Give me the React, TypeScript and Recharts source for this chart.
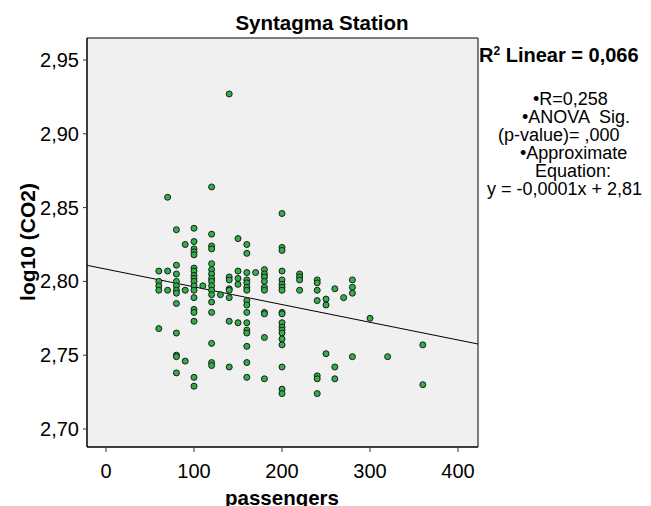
import {
  ScatterChart,
  Scatter,
  XAxis,
  YAxis,
  CartesianGrid,
  ReferenceLine,
  ReferenceArea,
} from 'recharts'

// passengers (x) and log10(CO2) (y)
const passengers = [
  60, 60, 60, 60, 60,
  70, 70, 70,
  80, 80, 80, 80, 80, 80, 80, 80, 80, 80, 80, 80,
  90, 90, 90,
  100, 100, 100, 100, 100, 100, 100, 100, 100, 100, 100, 100, 100, 100, 100, 100, 100, 100,
  110,
  120, 120, 120, 120, 120, 120, 120, 120, 120, 120, 120, 120, 120, 120, 120, 120, 120,
  130,
  140, 140, 140, 140, 140, 140, 140, 140,
  150, 150, 150, 150, 150,
  160, 160, 160, 160, 160, 160, 160, 160, 160, 160, 160, 160, 160, 160, 160, 160,
  170,
  180, 180, 180, 180, 180, 180, 180, 180, 180, 180,
  200, 200, 200, 200, 200, 200, 200, 200, 200, 200, 200, 200, 200, 200, 200, 200, 200, 200, 200,
  220, 220, 220, 220,
  240, 240, 240, 240, 240, 240, 240,
  250, 250, 250,
  260, 260, 260,
  270,
  280, 280, 280, 280,
  300,
  320,
  360, 360,
]

const logCO2 = [
  2.807, 2.8, 2.797, 2.794, 2.768,
  2.857, 2.807, 2.794,
  2.835, 2.811, 2.805, 2.8, 2.797, 2.794, 2.792, 2.785, 2.765, 2.75, 2.749, 2.738,
  2.825, 2.794, 2.746,
  2.836, 2.827, 2.822, 2.82, 2.818, 2.809, 2.807, 2.804, 2.802, 2.8, 2.797, 2.794, 2.789, 2.781, 2.779, 2.773, 2.735, 2.729,
  2.797,
  2.864, 2.832, 2.824, 2.822, 2.812, 2.808, 2.805, 2.802, 2.8, 2.797, 2.794, 2.791, 2.786, 2.779, 2.758, 2.745, 2.743,
  2.791,
  2.927, 2.803, 2.801, 2.795, 2.794, 2.789, 2.773, 2.742,
  2.829, 2.807, 2.802, 2.798, 2.772,
  2.825, 2.819, 2.806, 2.801, 2.799, 2.796, 2.794, 2.787, 2.784, 2.779, 2.772, 2.767, 2.765, 2.756, 2.745, 2.735,
  2.806,
  2.808, 2.805, 2.803, 2.8, 2.796, 2.794, 2.779, 2.778, 2.762, 2.734,
  2.846, 2.823, 2.821, 2.807, 2.801, 2.798, 2.796, 2.794, 2.779, 2.778, 2.772, 2.769, 2.767, 2.765, 2.761, 2.757, 2.742, 2.727, 2.724,
  2.805, 2.803, 2.801, 2.794,
  2.801, 2.799, 2.794, 2.787, 2.736, 2.734, 2.724,
  2.788, 2.784, 2.751,
  2.795, 2.742, 2.734,
  2.789,
  2.801, 2.796, 2.792, 2.749,
  2.775,
  2.749,
  2.757, 2.73,
]

const xTicks = [0, 100, 200, 300, 400]
const yTicks = [2.7, 2.75, 2.8, 2.85, 2.9, 2.95]
const xDomain = [-21.6, 422.7]
const yDomain = [2.6878, 2.9649]

// fitted line
const intercept = 2.8083
const slope = -0.00012

const notes = [
  { text: '\u2022R=0,258', x: 533, y: 105 },
  { text: '\u2022ANOVA  Sig.', x: 522, y: 123 },
  { text: '(p-value)= ,000', x: 498, y: 141 },
  { text: '\u2022Approximate', x: 520, y: 159 },
  { text: 'Equation:', x: 535, y: 177 },
  { text: 'y = -0,0001x + 2,81', x: 487, y: 195 },
]

const FONT = '"Liberation Sans", Arial, sans-serif'

const points = passengers.map((p, i) => ({ x: p, y: logCO2[i] }))

const fmt = (v: number) => v.toFixed(2).replace('.', ',')

function YTick(props: any) {
  const { x, y, payload } = props
  return (
    <text x={x} y={y + 7} textAnchor="end" fontFamily={FONT} fontSize={20} fill="#000">
      {fmt(payload.value)}
    </text>
  )
}

function XTick(props: any) {
  const { x, payload } = props
  return (
    <text x={x} y={478} textAnchor="middle" fontFamily={FONT} fontSize={20} fill="#000">
      {payload.value}
    </text>
  )
}

function Dot(props: any) {
  const { cx, cy } = props
  return <circle cx={cx} cy={cy} r={3} fill="#2fb04a" stroke="#1b1b1b" strokeWidth={1} />
}

export default function App() {
  return (
    <div
      style={{
        position: 'absolute',
        left: 0,
        top: 0,
        width: 651,
        height: 506,
        background: '#fff',
        overflow: 'hidden',
      }}
    >
      <ScatterChart
        width={651}
        height={506}
        margin={{ top: 38, right: 173, bottom: 0, left: 0 }}
      >
        <CartesianGrid fill="#f0f0f0" horizontal={false} vertical={false} />
        <XAxis
          type="number"
          dataKey="x"
          domain={xDomain}
          ticks={xTicks}
          allowDataOverflow
          height={59}
          tickSize={5}
          tick={<XTick />}
          axisLine={{ stroke: '#000' }}
          tickLine={{ stroke: '#333' }}
        />
        <YAxis
          type="number"
          dataKey="y"
          domain={yDomain}
          ticks={yTicks}
          allowDataOverflow
          width={87}
          tickSize={4}
          tickMargin={4}
          tick={<YTick />}
          axisLine={{ stroke: '#000' }}
          tickLine={{ stroke: '#333' }}
        />
        <ReferenceArea
          x1={xDomain[0]}
          x2={xDomain[1]}
          y1={yDomain[0]}
          y2={yDomain[1]}
          fill="none"
          stroke="#000"
          strokeWidth={1}
          ifOverflow="visible"
        />
        <ReferenceLine
          segment={[
            { x: xDomain[0], y: intercept + slope * xDomain[0] },
            { x: xDomain[1], y: intercept + slope * xDomain[1] },
          ]}
          stroke="#000"
          strokeWidth={1}
          ifOverflow="visible"
        />
        <Scatter data={points} shape={<Dot />} isAnimationActive={false} />
      </ScatterChart>
      <svg
        width={651}
        height={506}
        style={{ position: 'absolute', left: 0, top: 0, pointerEvents: 'none' }}
        fontFamily={FONT}
      >
        <text x={322} y={30} textAnchor="middle" fontSize={20.5} fontWeight="bold">
          Syntagma Station
        </text>
        <text x={282} y={505} textAnchor="middle" fontSize={20.5} fontWeight="bold">
          passengers
        </text>
        <text
          transform="translate(35,242) rotate(-90)"
          textAnchor="middle"
          fontSize={21}
          fontWeight="bold"
        >
          log10 (CO2)
        </text>
        <text x={479} y={62} fontSize={20} fontWeight="bold">
          R<tspan dy={-7} fontSize={12}>2</tspan>
          <tspan dy={7}>{'  Linear = 0,066'}</tspan>
        </text>
        {notes.map(n => (
          <text key={n.text} x={n.x} y={n.y} fontSize={18} style={{ whiteSpace: 'pre' }}>
            {n.text}
          </text>
        ))}
      </svg>
    </div>
  )
}
